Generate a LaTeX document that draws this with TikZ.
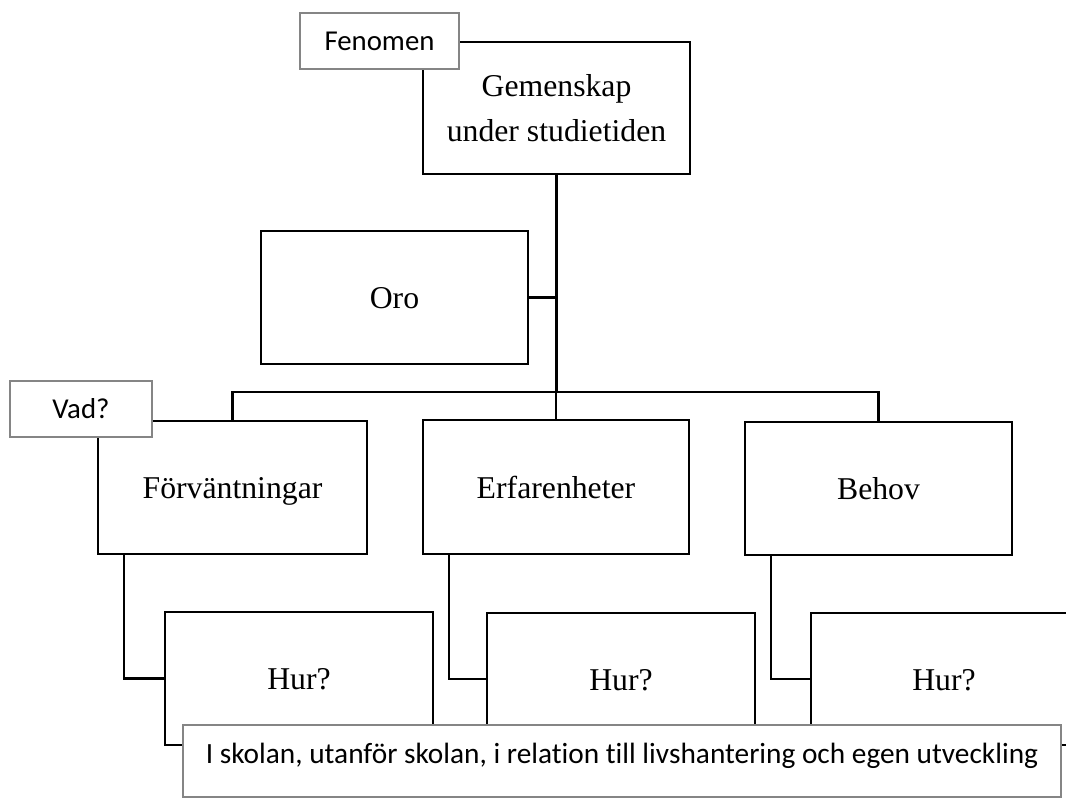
\documentclass[tikz,border=0pt]{standalone}
\usepackage{fontspec}
\setmainfont{Liberation Serif}
\newfontfamily\tagfont[Ligatures=NoCommon]{Carlito}
\newdimen\pxu \pxu=0.75pt
\tikzset{
  frame/.style={draw=black, line width=2pt, fill=white, inner sep=0pt, outer sep=0pt,
    font=\fontsize{23.8pt}{33.75pt}\selectfont, align=center},
  box/.style={frame, text height=16.5pt, text depth=0pt},
  tag/.style={draw=black!48, line width=1.5pt, fill=white, inner sep=0pt, outer sep=0pt,
    font=\tagfont\fontsize{21.6pt}{26pt}\selectfont},
  link/.style={draw=black, line width=2pt}
}
\begin{document}
\begin{tikzpicture}[x=0.75pt,y=-0.75pt]
\useasboundingbox (0,0) rectangle (1066,800);

% main tree boxes
\node[frame, minimum width=267\pxu, minimum height=132\pxu] (gem) at (556.5,108)
  {Gemenskap\\under studietiden};
\node[box, minimum width=267\pxu, minimum height=133\pxu] (oro) at (394.5,297.5) {Oro};
\node[box, minimum width=269\pxu, minimum height=133\pxu] (forv) at (232.5,487.5) {Förväntningar};
\node[box, minimum width=266\pxu, minimum height=134\pxu] (erf) at (556,487) {Erfarenheter};
\node[box, minimum width=267\pxu, minimum height=133\pxu] (beh) at (878.5,488.5) {Behov};
\node[box, minimum width=268\pxu, minimum height=133\pxu] (hur1) at (299,678.5) {Hur?};
\node[box, minimum width=268\pxu, minimum height=132\pxu] (hur2) at (621,679) {Hur?};
\node[box, minimum width=266\pxu, minimum height=132\pxu] (hur3) at (944,679) {Hur?};

% connectors
\coordinate (bus) at (555,392);
\draw[link] (gem.south) -- (gem.south |- bus);
\draw[link] (oro.east) -- (oro.east -| gem.south);
\draw[link] (forv.north) |- (beh.north |- bus) -- (beh.north);
\draw[link] (erf.north) -- (erf.north |- bus);
\draw[link] ([xshift=26\pxu]forv.south west) |- (hur1.west);
\draw[link] ([xshift=26\pxu]erf.south west) |- (hur2.west);
\draw[link] ([xshift=26\pxu]beh.south west) |- (hur3.west);

% grey tags laid over the tree
\node[tag, minimum width=159\pxu, minimum height=56\pxu] (fen) at (379.5,41) {Fenomen};
\node[tag, minimum width=142\pxu, minimum height=56\pxu] (vad) at (81,409) {Vad?};
\node[tag, minimum width=878\pxu, minimum height=72\pxu, text height=12pt, text depth=9pt,
  font=\tagfont\fontsize{22pt}{26pt}\selectfont]
  (lbl) at (622,761) {I skolan, utanför skolan, i relation till livshantering och egen utveckling};
\end{tikzpicture}
\end{document}
